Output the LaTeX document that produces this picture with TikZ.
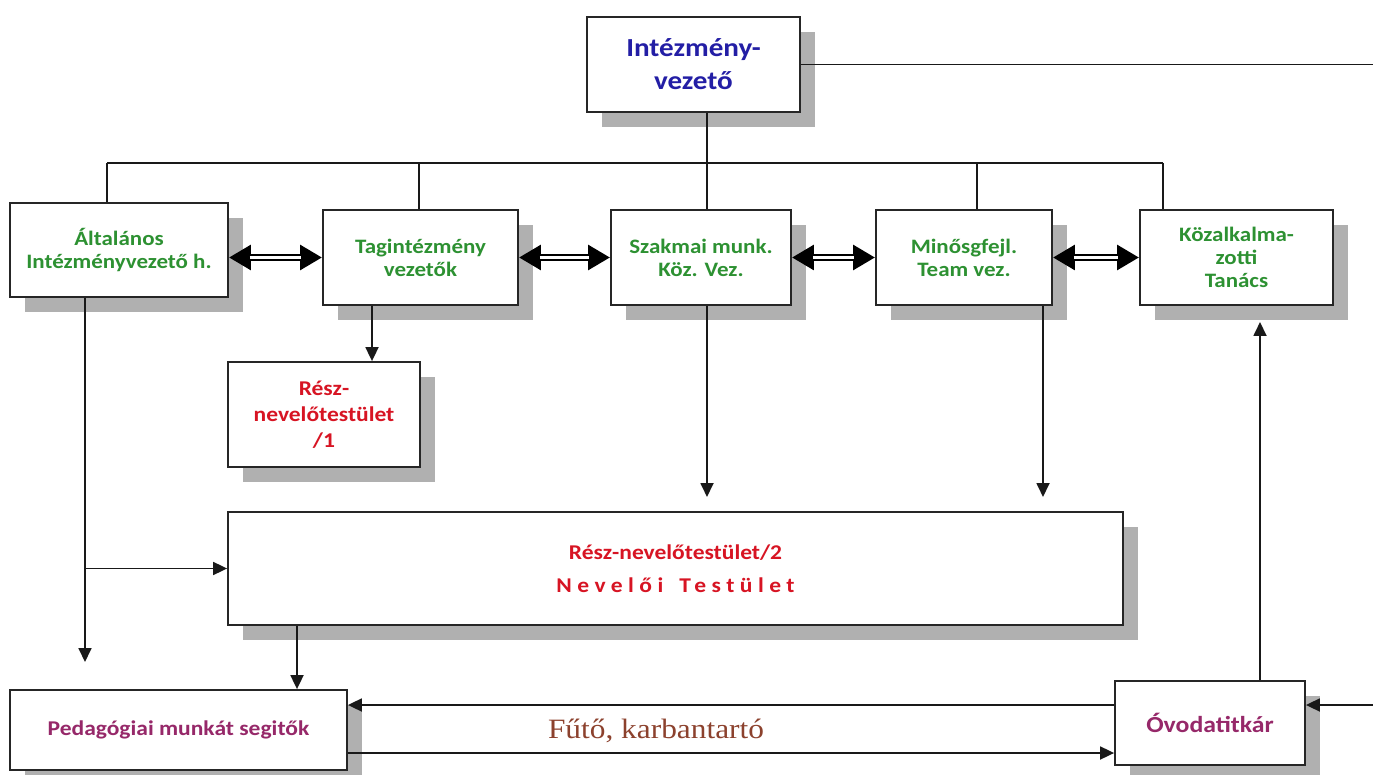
\documentclass[tikz,border=0pt]{standalone}
\usepackage{fontspec}
\setmainfont{Carlito}
\newfontfamily\cf[FakeStretch=1.12]{Carlito}
\newfontfamily\tf[FakeStretch=1.12]{Liberation Serif}
\usetikzlibrary{arrows.meta,shadows,calc}
\definecolor{tblue}{RGB}{35,30,165}
\definecolor{tgreen}{RGB}{45,145,50}
\definecolor{tred}{RGB}{215,20,35}
\definecolor{tpurple}{RGB}{150,40,105}
\definecolor{tbrown}{RGB}{140,65,45}
\begin{document}
\begin{tikzpicture}[x=1pt,y=-1pt,
  box/.style={draw=black!85, line width=1.8pt, fill=white, rectangle, align=center, inner sep=0pt,
    drop shadow={shadow xshift=15pt, shadow yshift=-15pt, fill=gray!62, opacity=1, draw=none}},
  gtext/.style={font=\cf\bfseries\fontsize{20.5}{23}\selectfont, text=tgreen},
  ln/.style={draw=black!90, line width=1.8pt},
  arr/.style={ln, -{Triangle[length=14pt,width=13pt]}},
  dbl/.style={draw=black, line width=7pt, {Triangle[length=22pt,width=24pt]}-{Triangle[length=22pt,width=24pt]},
    postaction={draw=white, line width=3pt, -, shorten >=21pt, shorten <=21pt}}
]
\useasboundingbox[fill=white] (0,0) rectangle (1373,775);

% boxes
\node[box, minimum width=213pt, minimum height=95pt, text=tblue,
  font=\cf\bfseries\fontsize{26}{33}\selectfont] (top) at (693.5,64.5) {Intézmény-\\vezető};
\node[box, gtext, minimum width=218pt, minimum height=94pt] (gen) at (119,250) {Általános\\Intézményvezető h.};
\node[box, gtext, minimum width=195pt, minimum height=95pt] (tag) at (420.5,257.5) {Tagintézmény\\vezetők};
\node[box, gtext, minimum width=180pt, minimum height=95pt] (szak) at (701,257.5) {Szakmai munk.\\Köz. Vez.};
\node[box, gtext, minimum width=176pt, minimum height=95pt] (min) at (964,257.5) {Minősgfejl.\\Team vez.};
\node[box, gtext, minimum width=193pt, minimum height=95pt] (koz) at (1236.5,257.5) {Közalkalma-\\zotti\\Tanács};
\node[box, minimum width=192pt, minimum height=105pt, text=tred,
  font=\cf\bfseries\fontsize{21}{26}\selectfont] (r1) at (324,414.5) {Rész-\\nevelőtestület\\/1};
\node[box, minimum width=895pt, minimum height=113pt, text=tred,
  font=\cf\bfseries\fontsize{21}{33}\selectfont] (big) at (675.5,568.5)
  {Rész-nevelőtestület/2\\{\addfontfeature{LetterSpace=26}Nevelői\hspace{16pt}Testület}};
\node[box, minimum width=337pt, minimum height=80pt, text=tpurple,
  font=\cf\bfseries\fontsize{21}{24}\selectfont] (ped) at (178.5,730) {Pedagógiai munkát segitők};
\node[box, minimum width=190pt, minimum height=84pt, text=tpurple,
  font=\cf\bfseries\fontsize{23}{26}\selectfont] (ovo) at (1210,723) {Óvodatitkár};
\node[font=\tf\fontsize{28}{30}\selectfont, text=tbrown] (fk) at (656,731) {Fűtő, karbantartó};

% coordinates
\coordinate (b1) at (107,163);
\coordinate (b2) at (419,163);
\coordinate (b3) at (707,163);
\coordinate (b4) at (977,163);
\coordinate (b5) at (1163,163);
\coordinate (re1) at (1373,64.5);
\coordinate (re2) at (1373,705);
\coordinate (x372) at (372,0);
\coordinate (x297) at (297,0);
\coordinate (x1260) at (1260,0);
\coordinate (gd) at (85,662);
\coordinate (sd) at (707,497);
\coordinate (md) at (1043,497);
\coordinate (ku) at (1260,322);
\coordinate (ya) at (0,705);
\coordinate (yb) at (0,753);

% lines
\draw[ln] (top.east) -- (re1);
\draw[ln] (b1) -- (b5);
\draw[ln] (top.south -| b3) -- (szak.north -| b3);
\draw[ln] (b1) -- (gen.north -| b1);
\draw[ln] (b2) -- (tag.north -| b2);
\draw[ln] (b4) -- (min.north -| b4);
\draw[ln] (b5) -- (koz.north -| b5);

% double arrows
\draw[dbl] (gen.east |- tag.west) -- (tag.west);
\draw[dbl] (tag.east) -- (szak.west);
\draw[dbl] (szak.east) -- (min.west);
\draw[dbl] (min.east) -- (koz.west);

% single arrows
\draw[arr] (tag.south -| x372) -- (r1.north -| x372);
\draw[arr] (gen.south -| gd) -- (gd);
\draw[arr] (gd |- big.west) -- (big.west);
\draw[arr] (szak.south -| sd) -- (sd);
\draw[arr] (min.south -| md) -- (md);
\draw[arr] (big.south -| x297) -- (ped.north -| x297);
\draw[arr] (ovo.north -| x1260) -- (ku);
\draw[arr] (ovo.west |- ya) -- (ped.east |- ya);
\draw[arr] (ped.east |- yb) -- (ovo.west |- yb);
\draw[arr] (re2) -- (ovo.east |- re2);
\end{tikzpicture}
\end{document}
